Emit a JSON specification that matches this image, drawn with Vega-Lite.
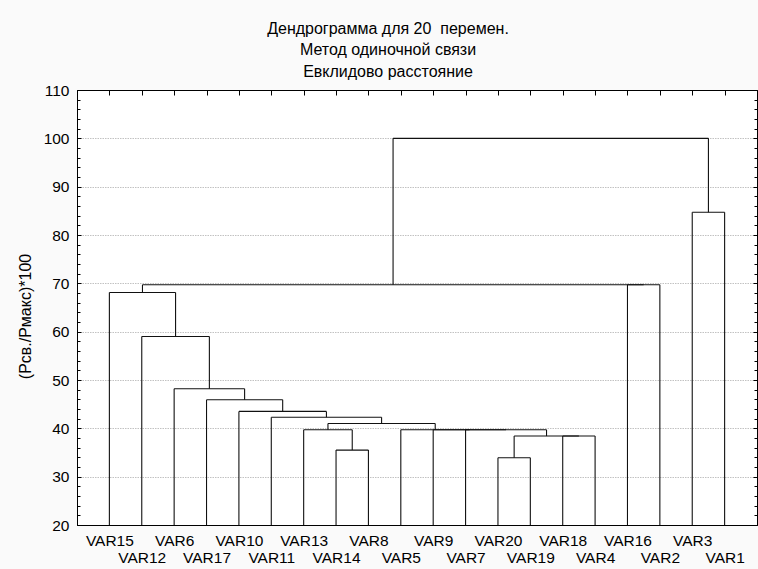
{
  "$schema": "https://vega.github.io/schema/vega-lite/v6.json",
  "width": 680,
  "height": 435,
  "autosize": "none",
  "padding": {"left": 77, "top": 90, "right": 1, "bottom": 44},
  "background": "#fafafa",
  "config": {
    "font": "Liberation Sans",
    "view": {"stroke": "black", "strokeWidth": 1, "fill": "white"},
    "axis": {"domainColor": "black", "tickColor": "black", "labelColor": "black", "titleColor": "black", "labelFontSize": 15.5, "titleFontSize": 16, "titleFontWeight": "normal", "labelOverlap": false, "labelFlush": false, "labelBound": false}
  },
  "title": {
    "text": ["Дендрограмма для 20\u00a0 перемен.", "Метод одиночной связи", "Евклидово расстояние"],
    "fontSize": 16,
    "fontWeight": "normal",
    "color": "black",
    "lineHeight": 21.7,
    "offset": 3,
    "anchor": "middle",
    "dx": -29
  },
  "data": {
    "values": [
      {"lx": 8, "rx": 9, "h": 35.5, "lh": 20, "rh": 20},
      {"lx": 7, "rx": 8.5, "h": 39.7, "lh": 20, "rh": 35.5},
      {"lx": 13, "rx": 14, "h": 33.9, "lh": 20, "rh": 20},
      {"lx": 15, "rx": 16, "h": 38.4, "lh": 20, "rh": 20},
      {"lx": 13.5, "rx": 15.5, "h": 38.4, "lh": 33.9, "rh": 38.4},
      {"lx": 12, "rx": 14.5, "h": 39.7, "lh": 20, "rh": 38.4},
      {"lx": 11, "rx": 13.25, "h": 39.7, "lh": 20, "rh": 39.7},
      {"lx": 10, "rx": 12.125, "h": 39.7, "lh": 20, "rh": 39.7},
      {"lx": 7.75, "rx": 11.0625, "h": 41.0, "lh": 39.7, "rh": 39.7},
      {"lx": 6, "rx": 9.40625, "h": 42.3, "lh": 20, "rh": 41.0},
      {"lx": 5, "rx": 7.703, "h": 43.5, "lh": 20, "rh": 42.3},
      {"lx": 4, "rx": 6.352, "h": 45.9, "lh": 20, "rh": 43.5},
      {"lx": 3, "rx": 5.176, "h": 48.2, "lh": 20, "rh": 45.9},
      {"lx": 2, "rx": 4.088, "h": 59.0, "lh": 20, "rh": 48.2},
      {"lx": 1, "rx": 3.044, "h": 68.1, "lh": 20, "rh": 59.0},
      {"lx": 17, "rx": 18, "h": 69.7, "lh": 20, "rh": 20},
      {"lx": 2.022, "rx": 17.5, "h": 69.7, "lh": 68.1, "rh": 69.7},
      {"lx": 19, "rx": 20, "h": 84.7, "lh": 20, "rh": 20},
      {"lx": 9.761, "rx": 19.5, "h": 100.0, "lh": 69.7, "rh": 84.7}
    ]
  },
  "layer": [
    {
      "mark": {"type": "rule", "color": "#111", "strokeWidth": 1.1},
      "encoding": {
        "x": {
          "field": "lx", "type": "quantitative",
          "scale": {"domain": [0, 21], "nice": false, "zero": false},
          "axis": {
            "orient": "bottom",
            "values": [1,2,3,4,5,6,7,8,9,10,11,12,13,14,15,16,17,18,19,20],
            "labelExpr": "['','VAR15','VAR12','VAR6','VAR17','VAR10','VAR11','VAR13','VAR14','VAR8','VAR5','VAR9','VAR7','VAR20','VAR19','VAR18','VAR4','VAR16','VAR2','VAR3','VAR1'][datum.value]",
            "ticks": false,
            "grid": false,
            "title": null,
            "labelAlign": "center",
            "labelBaseline": "top",
            "labelPadding": {"condition": {"test": "datum.value % 2 === 1", "value": 8}, "value": 25}
          }
        },
        "x2": {"field": "rx"},
        "y": {
          "field": "h", "type": "quantitative",
          "scale": {"domain": [20, 110], "nice": false, "zero": false},
          "axis": {
            "orient": "left",
            "values": [20,22,24,26,28,30,32,34,36,38,40,42,44,46,48,50,52,54,56,58,60,62,64,66,68,70,72,74,76,78,80,82,84,86,88,90,92,94,96,98,100,102,104,106,108,110],
            "labelExpr": "datum.value % 10 === 0 ? datum.label : ''",
            "grid": true,
            "gridColor": "#c2c2c2",
            "gridDash": [1.5, 1],
            "gridWidth": 1,
            "gridOpacity": {"condition": {"test": "datum.value % 10 === 0 && datum.value > 20 && datum.value < 110", "value": 1}, "value": 0},
            "tickSize": {"condition": {"test": "datum.value % 10 === 0", "value": -4}, "value": -3},
            "labelPadding": 12,
            "title": "(Рсв./Рмакс)*100",
            "titlePadding": 10,
            "titleY": 226
          }
        }
      }
    },
    {
      "mark": {"type": "rule", "color": "#111", "strokeWidth": 1.1},
      "encoding": {
        "x": {
          "field": "lx", "type": "quantitative",
          "axis": {"orient": "top", "values": [1,2,3,4,5,6,7,8,9,10,11,12,13,14,15,16,17,18,19,20], "labels": false, "tickSize": -5, "grid": false, "title": null}
        },
        "y": {
          "field": "lh", "type": "quantitative",
          "axis": {
            "orient": "right",
            "values": [20,22,24,26,28,30,32,34,36,38,40,42,44,46,48,50,52,54,56,58,60,62,64,66,68,70,72,74,76,78,80,82,84,86,88,90,92,94,96,98,100,102,104,106,108,110],
            "labels": false, "grid": false, "title": null,
            "tickSize": {"condition": {"test": "datum.value % 10 === 0", "value": -4}, "value": -3}
          }
        },
        "y2": {"field": "h"}
      }
    },
    {
      "mark": {"type": "rule", "color": "#111", "strokeWidth": 1.1},
      "encoding": {
        "x": {"field": "rx", "type": "quantitative", "axis": null},
        "y": {"field": "rh", "type": "quantitative", "axis": null},
        "y2": {"field": "h"}
      }
    }
  ],
  "resolve": {"axis": {"x": "independent", "y": "independent"}}
}
